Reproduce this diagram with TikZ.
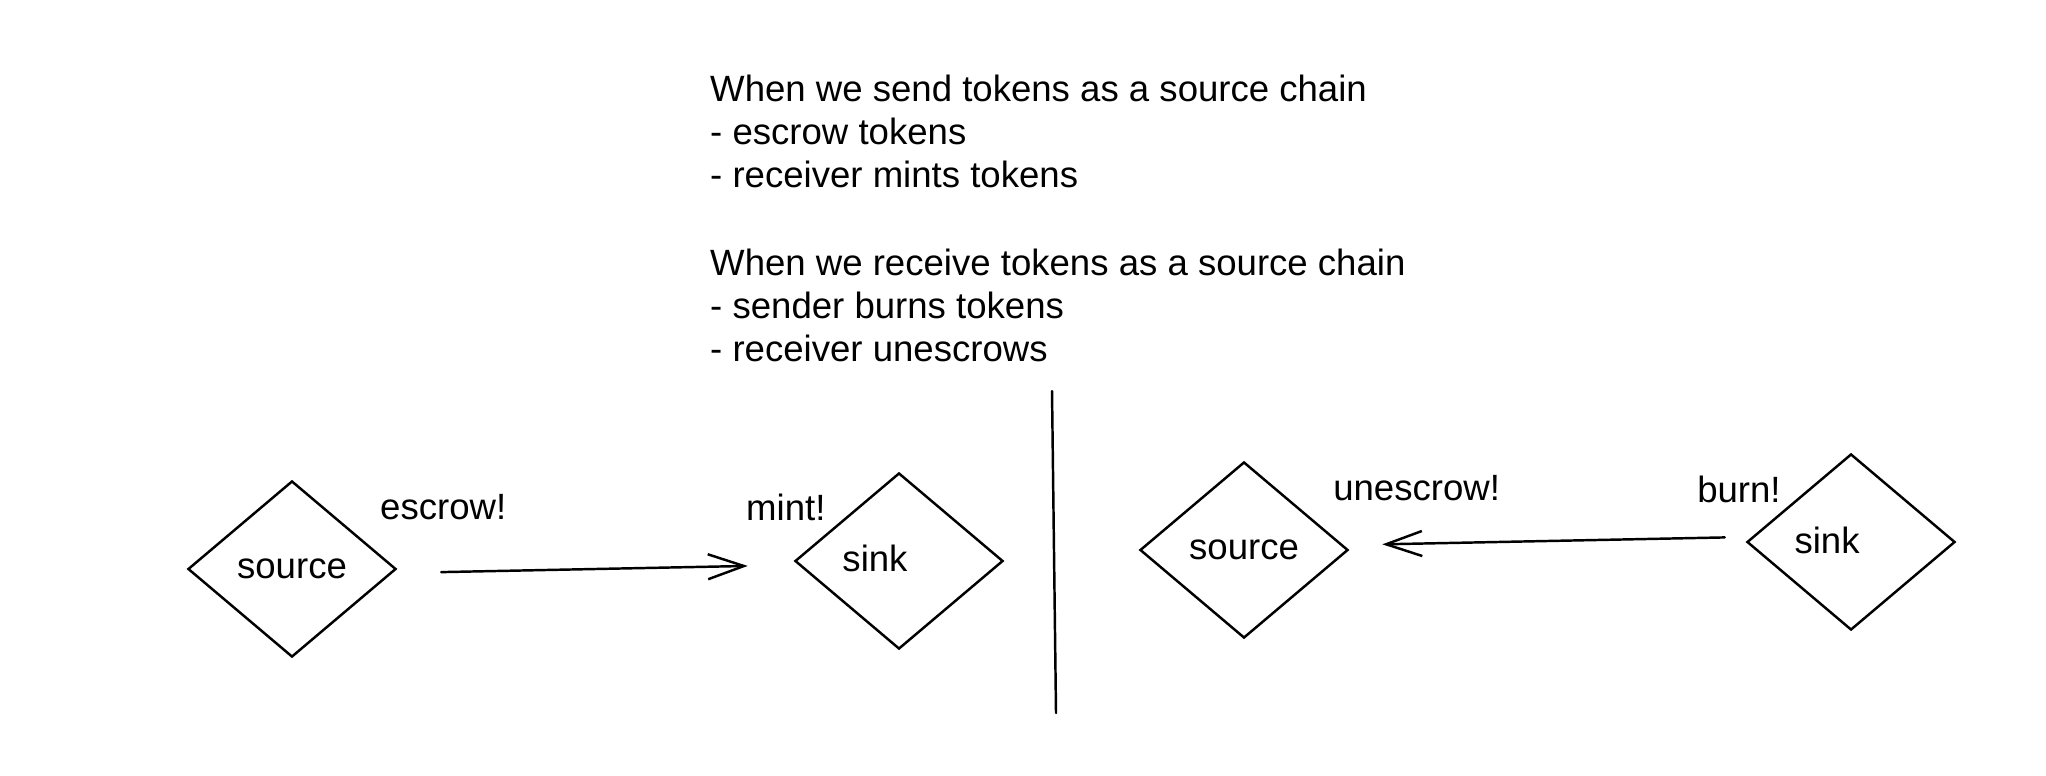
\documentclass[tikz,border=0pt]{standalone}
\usepackage{fontspec}
\setmainfont{Liberation Sans}
\usetikzlibrary{shapes.geometric,arrows.meta}
\begin{document}
\begin{tikzpicture}[x=0.01cm,y=-0.01cm,line width=0.7pt,line cap=round,font=\fontsize{10.4}{12.2}\selectfont]
            \def\dw{2.08cm}
            \def\dh{1.76cm}
            \tikzset{d/.style={draw,diamond,inner sep=0pt,minimum width=\dw,minimum height=\dh},
                t/.style={anchor=base west,inner sep=0pt}}
            \useasboundingbox(0,0)rectangle(2046,776);
            \path(292,569)node[d](S1){source}++(607,-8)node[d](K1){};
            \path(S1)++(952,-19)node[d](S2){source}++(607,-8)node[d](K2){};
            \path(K1)++(-24,-3)node(k1){sink};
            \path(K2)++(-24,-2)node(k2){sink};
            \path(379,519)node[t](e1){escrow!}(745,520)node[t](m1){mint!}
            (1332,500)node[t](u1){unescrow!}(1696,502)node[t](b1){burn!};
            \foreach \yy/\tx [count=\i] in {
                102/When we send tokens as a source chain,
                145/- escrow tokens,
                188/- receiver mints tokens,
                275/When we receive tokens as a source chain,
                318/- sender burns tokens,
                361/- receiver unescrows}
            \node[t](l\i)at(709,\yy){\tx};
            \foreach \x/\y/\a/\b/\c in {
                S1.east/K1.west/0.44cm/0.46cm/-0.04cm,
                K2.west/S2.east/0.21cm/0.33cm/0.05cm}
            \draw[-{Straight Barb[length=0.36cm,width=0.25cm]},shorten <=\a,shorten >=\b]([yshift=\c]\x)--([yshift=\c]\y);
            % trennlinie
            \coordinate(v1)at(1052,391);
            \coordinate(v2)at(1056,713);
            \draw(v1)--(v2);
        \end{tikzpicture}
\end{document}
